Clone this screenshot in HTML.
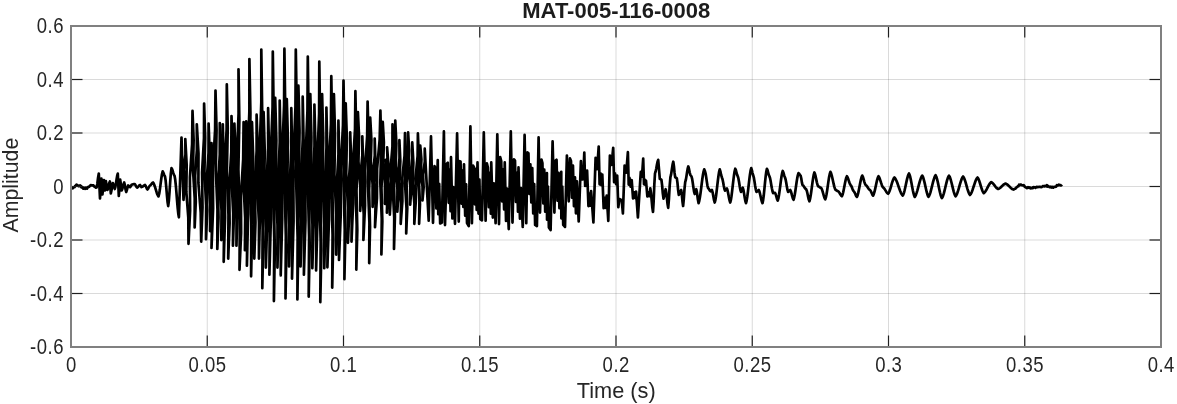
<!DOCTYPE html>
<html><head><meta charset="utf-8"><style>html,body{margin:0;padding:0;background:#fff;overflow:hidden}svg{display:block;will-change:transform}</style></head>
<body><svg width="1177" height="404" viewBox="0 0 1177 404"><defs><clipPath id="c"><rect x="71.0" y="26.0" width="1090.0" height="321.0"/></clipPath></defs><rect width="1177" height="404" fill="#fff"/><g stroke="#262626" stroke-opacity="0.17" stroke-width="1"><line x1="207.25" y1="26.0" x2="207.25" y2="347.0"/><line x1="343.50" y1="26.0" x2="343.50" y2="347.0"/><line x1="479.75" y1="26.0" x2="479.75" y2="347.0"/><line x1="616.00" y1="26.0" x2="616.00" y2="347.0"/><line x1="752.25" y1="26.0" x2="752.25" y2="347.0"/><line x1="888.50" y1="26.0" x2="888.50" y2="347.0"/><line x1="1024.75" y1="26.0" x2="1024.75" y2="347.0"/><line x1="71.0" y1="293.50" x2="1161.0" y2="293.50"/><line x1="71.0" y1="240.00" x2="1161.0" y2="240.00"/><line x1="71.0" y1="186.50" x2="1161.0" y2="186.50"/><line x1="71.0" y1="133.00" x2="1161.0" y2="133.00"/><line x1="71.0" y1="79.50" x2="1161.0" y2="79.50"/></g><g clip-path="url(#c)"><path d="M71.30,188.60 L71.95,187.77 L72.60,188.37 L73.25,187.41 L73.90,187.26 L74.55,187.08 L75.20,185.97 L75.85,185.54 L76.50,184.70 L77.10,185.04 L77.70,185.48 L78.30,185.87 L78.90,186.16 L79.50,185.63 L80.14,185.41 L80.79,186.07 L81.43,187.39 L82.07,186.89 L82.71,187.66 L83.36,188.69 L84.00,187.63 L84.60,188.40 L85.20,188.82 L85.80,187.73 L86.40,188.11 L87.00,188.57 L87.70,187.13 L88.40,187.08 L89.10,186.71 L89.80,185.99 L90.50,185.35 L91.10,185.01 L91.70,185.46 L92.30,185.35 L92.90,185.54 L93.50,185.41 L94.12,186.38 L94.74,186.78 L95.36,186.73 L95.98,187.60 L96.60,187.49 L97.33,183.78 L98.07,177.62 L98.80,173.60 L99.40,186.05 L100.00,198.50 L100.70,188.55 L101.40,178.60 L101.90,186.55 L102.40,194.50 L103.15,187.30 L103.90,180.10 L104.40,185.30 L104.90,190.50 L105.40,185.80 L105.90,181.10 L106.65,185.55 L107.40,190.00 L108.03,188.40 L108.65,185.75 L109.28,183.10 L109.90,181.50 L110.35,187.50 L110.80,193.50 L111.47,190.53 L112.13,185.97 L112.80,183.00 L113.47,184.70 L114.13,187.30 L114.80,189.00 L115.40,186.89 L116.00,183.34 L116.60,179.26 L117.20,175.71 L117.80,173.60 L118.30,184.80 L118.80,196.00 L119.50,187.80 L120.20,179.60 L120.95,185.05 L121.70,190.50 L122.33,189.00 L122.95,186.50 L123.58,184.00 L124.20,182.50 L124.87,185.19 L125.53,189.31 L126.20,192.00 L126.87,190.16 L127.53,187.34 L128.20,185.50 L128.83,185.95 L129.47,186.65 L130.10,187.10 L130.73,186.36 L131.37,185.24 L132.00,184.50 L132.65,184.41 L133.30,184.25 L133.95,184.09 L134.60,184.00 L135.22,184.68 L135.85,185.80 L136.47,186.92 L137.10,187.60 L137.82,187.11 L138.55,186.30 L139.28,185.49 L140.00,185.00 L140.75,186.05 L141.50,187.10 L142.20,186.81 L142.90,186.33 L143.60,185.77 L144.30,185.29 L145.00,185.00 L145.62,185.85 L146.25,187.25 L146.88,188.65 L147.50,189.50 L148.12,188.75 L148.75,187.50 L149.38,186.25 L150.00,185.50 L150.60,185.09 L151.20,184.40 L151.80,183.60 L152.40,182.91 L153.00,182.50 L153.61,183.37 L154.22,184.71 L154.83,186.44 L155.44,188.42 L156.06,190.48 L156.67,192.46 L157.28,194.19 L157.89,195.53 L158.50,196.40 L159.20,193.73 L159.90,189.32 L160.60,183.90 L161.30,178.48 L162.00,174.07 L162.70,171.40 L163.47,172.84 L164.23,175.06 L165.00,176.50 L165.64,180.56 L166.28,187.37 L166.92,195.23 L167.56,202.04 L168.20,206.10 L168.86,200.90 L169.52,192.18 L170.18,182.12 L170.84,173.40 L171.50,168.20 L172.12,169.27 L172.74,171.06 L173.36,173.14 L173.98,174.93 L174.60,176.00 L175.21,179.59 L175.83,185.38 L176.44,192.71 L177.06,200.59 L177.67,207.92 L178.29,213.71 L178.90,217.30 L181.50,137.50 L183.50,199.80 L184.55,184.62 L183.80,169.45 L185.45,154.28 L185.30,139.10 L186.70,165.28 L186.30,191.45 L188.30,217.62 L188.50,243.80 L190.10,210.58 L189.90,177.35 L192.10,144.12 L192.50,110.90 L193.64,140.04 L192.97,169.18 L194.71,198.31 L194.65,227.45 L195.79,201.66 L195.13,175.88 L196.86,150.09 L196.80,124.30 L198.50,153.62 L198.40,182.95 L200.70,212.28 L201.20,241.60 L202.52,207.08 L202.05,172.55 L203.97,138.03 L204.10,103.50 L205.17,137.43 L204.45,171.35 L206.12,205.28 L206.00,239.20 L207.25,210.30 L206.70,181.40 L208.55,152.50 L208.60,123.60 L209.56,150.47 L208.72,177.34 L210.29,204.22 L210.05,231.09 L211.01,209.07 L210.18,187.04 L211.74,165.02 L211.50,143.00 L212.10,169.25 L210.90,195.50 L212.10,221.75 L211.50,248.00 L213.10,208.62 L212.90,169.25 L215.10,129.88 L215.50,90.50 L216.55,130.12 L215.80,169.75 L217.45,209.38 L217.30,249.00 L218.53,217.53 L217.95,186.05 L219.78,154.57 L219.80,123.10 L220.78,152.34 L219.95,181.58 L221.53,210.81 L221.30,240.05 L222.28,211.11 L221.45,182.18 L223.03,153.24 L222.80,124.30 L223.62,158.68 L222.65,193.05 L224.07,227.43 L223.70,261.80 L225.07,217.45 L224.65,173.10 L226.62,128.75 L226.80,84.40 L227.75,127.95 L226.90,171.50 L228.45,215.05 L228.20,258.60 L229.62,222.98 L229.25,187.35 L231.28,151.73 L231.50,116.10 L232.46,148.49 L231.62,180.88 L233.19,213.26 L232.95,245.65 L233.91,215.14 L233.08,184.62 L234.64,154.11 L234.40,123.60 L235.51,154.11 L234.83,184.62 L236.54,215.14 L236.45,245.65 L237.56,201.56 L236.88,157.47 L238.59,113.39 L238.50,69.30 L239.35,119.42 L238.40,169.55 L239.85,219.68 L239.50,269.80 L241.12,232.90 L240.95,196.00 L243.17,159.10 L243.60,122.20 L244.52,154.20 L243.65,186.20 L245.17,218.20 L244.90,250.20 L245.82,217.97 L244.95,185.75 L246.47,153.53 L246.20,121.30 L246.97,157.40 L245.95,193.50 L247.32,229.60 L246.90,265.70 L248.12,214.02 L247.55,162.35 L249.38,110.68 L249.40,59.00 L250.42,113.33 L249.65,167.65 L251.28,221.98 L251.10,276.30 L251.92,237.78 L250.95,199.25 L252.38,160.72 L252.00,122.20 L253.17,156.28 L252.55,190.37 L254.33,224.45 L254.30,258.53 L255.47,222.57 L254.85,186.61 L256.63,150.66 L256.60,114.70 L257.79,150.66 L257.18,186.62 L258.96,222.57 L258.95,258.53 L260.14,206.30 L259.52,154.06 L261.31,101.83 L261.30,49.60 L262.15,109.25 L261.20,168.90 L262.65,228.55 L262.30,288.20 L263.23,244.18 L262.35,200.15 L263.88,156.12 L263.60,112.10 L264.76,150.97 L264.12,189.83 L265.89,228.69 L265.85,267.56 L267.01,227.72 L266.38,187.88 L268.14,148.04 L268.10,108.20 L269.03,149.82 L268.15,191.45 L269.68,233.07 L269.40,274.70 L270.85,218.90 L270.50,163.10 L272.55,107.30 L272.80,51.50 L273.68,113.90 L272.75,176.30 L274.23,238.70 L273.90,301.10 L274.82,250.30 L273.95,199.50 L275.48,148.70 L275.20,97.90 L276.36,140.31 L275.72,182.73 L277.49,225.15 L277.45,267.56 L278.61,225.80 L277.97,184.03 L279.74,142.26 L279.70,100.50 L280.55,144.23 L279.60,187.95 L281.05,231.68 L280.70,275.40 L282.23,218.73 L281.95,162.05 L284.07,105.38 L284.40,48.70 L285.27,111.15 L284.35,173.60 L285.83,236.05 L285.50,298.50 L286.43,248.68 L285.55,198.85 L287.08,149.02 L286.80,99.20 L287.96,141.01 L287.32,182.82 L289.09,224.63 L289.05,266.44 L290.21,226.88 L289.57,187.32 L291.34,147.76 L291.30,108.20 L292.08,150.80 L291.05,193.40 L292.43,236.00 L292.00,278.60 L293.55,221.35 L293.30,164.10 L295.45,106.85 L295.80,49.60 L296.80,112.08 L296.00,174.55 L297.60,237.03 L297.40,299.50 L298.25,246.05 L297.30,192.60 L298.75,139.15 L298.40,85.70 L299.54,130.88 L298.87,176.07 L300.61,221.25 L300.55,266.44 L301.69,224.00 L301.02,181.57 L302.76,139.13 L302.70,96.70 L303.60,141.20 L302.70,185.70 L304.20,230.20 L303.90,274.70 L305.48,220.15 L305.25,165.60 L307.43,111.05 L307.80,56.50 L308.62,116.53 L307.65,176.55 L309.08,236.58 L308.70,296.60 L309.70,245.98 L308.90,195.35 L310.50,144.73 L310.30,94.10 L311.41,137.64 L310.73,181.18 L312.44,224.72 L312.35,268.26 L313.46,227.34 L312.77,186.43 L314.49,145.52 L314.40,104.60 L315.43,146.07 L314.65,187.55 L316.28,229.02 L316.10,270.50 L317.50,218.25 L317.10,166.00 L319.10,113.75 L319.30,61.50 L320.15,121.65 L319.20,181.80 L320.65,241.95 L320.30,302.10 L321.35,250.10 L320.60,198.10 L322.25,146.10 L322.10,94.10 L323.24,137.64 L322.57,181.18 L324.31,224.72 L324.25,268.26 L325.39,228.09 L324.72,187.93 L326.46,147.77 L326.40,107.60 L327.25,147.53 L326.30,187.45 L327.75,227.38 L327.40,267.30 L328.98,219.53 L328.75,171.75 L330.93,123.97 L331.30,76.20 L332.12,129.05 L331.15,181.90 L332.58,234.75 L332.20,287.60 L333.23,239.23 L332.45,190.85 L334.07,142.48 L333.90,94.10 L335.06,134.22 L334.42,174.34 L336.19,214.47 L336.15,254.59 L337.31,221.07 L336.67,187.54 L338.44,154.02 L338.40,120.50 L339.15,155.35 L338.10,190.20 L339.45,225.05 L339.00,259.90 L340.73,215.05 L340.65,170.20 L342.98,125.35 L343.50,80.50 L344.33,130.18 L343.35,179.85 L344.77,229.52 L344.40,279.20 L345.32,235.22 L344.45,191.25 L345.98,147.28 L345.70,103.30 L346.86,138.17 L346.22,173.05 L347.99,207.92 L347.95,242.79 L349.11,215.19 L348.47,187.60 L350.24,160.00 L350.20,132.40 L351.12,159.70 L350.25,187.00 L351.78,214.30 L351.50,241.60 L353.08,204.00 L352.85,166.40 L355.02,128.80 L355.40,91.20 L356.23,135.80 L355.25,180.40 L356.68,225.00 L356.30,269.60 L357.30,230.23 L356.50,190.85 L358.10,151.48 L357.90,112.10 L359.07,136.78 L358.45,161.45 L360.23,186.12 L360.20,210.80 L361.33,192.18 L360.65,173.55 L362.38,154.92 L362.30,136.30 L363.18,162.22 L362.25,188.15 L363.73,214.07 L363.40,240.00 L365.05,205.38 L364.90,170.75 L367.15,136.12 L367.60,101.50 L368.60,141.90 L367.80,182.30 L369.40,222.70 L369.20,263.10 L370.05,226.73 L369.10,190.35 L370.55,153.98 L370.20,117.60 L371.40,139.90 L370.80,162.20 L372.60,184.50 L372.60,206.80 L373.73,189.73 L373.05,172.65 L374.78,155.57 L374.70,138.50 L375.38,160.65 L374.25,182.80 L375.53,204.95 L375.00,227.10 L376.95,197.98 L377.10,168.85 L379.65,139.73 L380.40,110.60 L381.25,146.55 L380.30,182.50 L381.75,218.45 L381.40,254.40 L382.34,221.25 L381.47,188.10 L383.01,154.95 L382.75,121.80 L383.89,142.30 L383.22,162.80 L384.96,183.30 L384.90,203.80 L385.75,192.82 L384.80,181.84 L386.25,170.86 L385.90,159.88 L386.75,173.06 L385.80,186.24 L387.25,199.42 L386.90,212.60 L387.55,196.31 L386.40,180.03 L387.65,163.74 L387.10,147.45 L388.38,164.23 L387.85,181.01 L389.73,197.79 L389.80,214.57 L391.08,192.01 L390.55,169.44 L392.43,146.87 L392.50,124.30 L393.48,155.47 L392.65,186.65 L394.23,217.82 L394.00,249.00 L394.91,216.90 L394.02,184.80 L395.54,152.70 L395.25,120.60 L396.37,143.38 L395.69,166.15 L397.41,188.93 L397.32,211.71 L398.44,193.83 L397.76,175.95 L399.48,158.08 L399.40,140.20 L400.32,161.10 L399.45,182.00 L400.98,202.90 L400.70,223.80 L402.38,201.12 L402.25,178.45 L404.53,155.78 L405.00,133.10 L405.90,158.20 L405.00,183.30 L406.50,208.40 L406.20,233.50 L407.28,208.24 L406.55,182.97 L408.23,157.71 L408.10,132.45 L409.22,150.51 L408.54,168.58 L410.26,186.64 L410.18,204.71 L411.29,189.14 L410.61,173.58 L412.33,158.01 L412.25,142.45 L413.36,162.79 L412.67,183.12 L414.39,203.46 L414.30,223.80 L415.80,201.21 L415.50,178.62 L417.60,156.04 L417.90,133.45 L418.80,156.04 L417.90,178.62 L419.40,201.21 L419.10,223.80 L419.99,204.25 L419.07,184.70 L420.56,165.15 L420.25,145.60 L421.41,159.29 L420.77,172.99 L422.54,186.68 L422.50,200.38 L423.66,187.46 L423.02,174.54 L424.79,161.62 L424.75,148.70 L428.70,220.60 L431.00,136.45 L433.00,222.80 L434.50,166.20 L435.44,167.98 L436.39,208.41 L437.75,160.20 L438.27,214.18 L439.21,183.95 L440.16,223.45 L441.90,222.55 L443.90,131.45 L445.00,225.05 L446.90,163.45 L447.81,162.75 L448.72,202.78 L449.64,169.39 L450.55,211.27 L451.00,157.20 L452.38,218.45 L453.29,187.15 L455.00,223.80 L457.10,133.45 L458.75,221.55 L459.60,161.20 L460.53,161.52 L461.46,203.56 L462.38,170.70 L463.31,206.94 L464.00,164.30 L465.17,215.66 L466.09,184.24 L467.02,223.10 L468.75,226.05 L470.40,126.45 L471.90,223.20 L473.10,165.60 L474.00,167.28 L474.90,204.29 L475.80,169.11 L476.70,209.96 L477.50,162.45 L478.50,213.57 L479.40,179.59 L480.30,219.11 L482.00,220.30 L483.80,132.45 L485.60,220.70 L486.90,163.45 L487.89,167.54 L488.88,207.24 L489.86,172.89 L490.85,213.74 L491.25,162.45 L492.82,217.53 L493.81,183.28 L495.60,223.20 L497.30,134.30 L499.00,224.05 L500.25,157.20 L501.21,161.10 L502.18,201.51 L503.14,169.31 L504.10,209.48 L504.75,162.45 L506.02,220.90 L506.99,188.68 L508.75,229.05 L510.80,131.45 L512.50,222.55 L514.00,159.30 L514.99,160.50 L515.99,201.95 L516.98,172.81 L517.98,211.62 L518.50,167.45 L519.96,218.67 L520.96,188.18 L522.75,226.90 L524.60,134.95 L526.25,223.20 L527.50,152.45 L528.46,153.30 L529.41,193.90 L530.37,164.40 L531.32,202.46 L532.25,168.10 L533.23,213.36 L534.19,184.05 L535.14,224.91 L536.90,226.05 L538.60,137.45 L540.00,212.55 L541.50,159.70 L542.42,163.11 L543.34,203.36 L544.27,169.72 L545.19,211.75 L546.90,173.10 L547.03,219.70 L547.96,186.48 L548.88,227.46 L550.60,230.05 L552.60,141.45 L554.40,212.55 L555.60,160.60 L556.56,159.78 L557.51,200.68 L558.47,172.86 L559.42,208.23 L561.25,171.80 L561.33,218.37 L562.29,186.62 L563.24,224.94 L565.00,226.90 L566.90,155.60 L568.75,201.30 L570.00,158.45 L570.99,160.91 L571.98,197.61 L572.96,165.53 L573.95,206.17 L575.00,177.45 L575.93,213.34 L576.91,181.39 L578.70,221.50 L580.90,161.20 L581.45,179.44 L582.00,166.00 L583.15,179.28 L584.30,152.50 L585.15,185.95 L586.00,173.00 L586.55,185.71 L587.10,170.50 L588.45,206.05 L589.80,193.50 L590.45,205.66 L591.10,191.20 L593.40,222.50 L595.60,157.80 L597.15,169.12 L598.70,146.50 L599.60,184.28 L600.50,173.40 L601.40,185.12 L602.30,174.50 L603.65,208.26 L605.00,197.90 L605.85,207.87 L606.70,195.70 L608.30,220.80 L609.90,155.60 L611.55,164.87 L613.20,147.80 L614.10,182.19 L615.00,173.40 L616.10,184.13 L617.20,175.60 L618.30,207.22 L619.40,199.00 L621.70,200.10 L622.90,213.50 L624.60,165.60 L626.25,172.75 L627.90,152.20 L628.70,184.58 L629.50,177.90 L630.60,186.55 L631.70,180.10 L633.05,198.43 L634.40,192.30 L635.25,198.04 L636.10,191.70 L637.90,217.50 L640.80,171.80 L641.40,174.21 L642.00,176.62 L642.60,167.56 L643.20,158.50 L643.60,171.34 L644.00,184.18 L644.40,181.94 L644.80,179.70 L645.10,182.22 L645.40,184.75 L645.70,182.62 L646.00,180.50 L646.67,188.49 L647.35,196.48 L648.03,194.44 L648.70,192.40 L649.10,194.24 L649.50,196.09 L649.90,192.24 L650.30,188.40 L650.97,192.83 L651.65,200.20 L652.33,207.57 L653.00,212.00 L653.67,201.06 L654.33,184.34 L655.00,173.40 L655.64,171.55 L656.28,168.44 L656.92,164.86 L657.56,161.75 L658.20,159.90 L659.00,169.40 L659.80,178.90 L660.60,179.30 L661.40,179.70 L662.10,185.08 L662.80,193.32 L663.50,198.70 L664.23,196.01 L664.97,191.89 L665.70,189.20 L666.33,192.69 L666.95,198.50 L667.58,204.31 L668.20,207.80 L668.93,199.16 L669.67,185.94 L670.40,177.30 L671.12,174.37 L671.85,169.50 L672.57,164.63 L673.30,161.70 L673.93,166.12 L674.57,172.88 L675.20,177.30 L676.00,177.70 L676.80,178.10 L677.47,182.83 L678.13,190.07 L678.80,194.80 L679.40,193.90 L680.00,192.40 L680.60,190.90 L681.20,190.00 L681.83,194.53 L682.47,201.47 L683.10,206.00 L683.80,199.23 L684.50,188.87 L685.20,182.10 L685.82,179.96 L686.44,176.37 L687.06,172.23 L687.68,168.64 L688.30,166.50 L689.00,168.91 L689.70,172.59 L690.40,175.00 L690.95,175.75 L691.50,176.50 L692.14,178.90 L692.78,182.93 L693.42,187.57 L694.06,191.60 L694.70,194.00 L695.50,191.60 L696.30,189.20 L697.07,193.17 L697.83,199.23 L698.60,203.20 L699.22,201.09 L699.84,197.82 L700.47,193.62 L701.09,188.81 L701.71,183.79 L702.33,178.98 L702.96,174.78 L703.58,171.51 L704.20,169.40 L704.60,170.32 L705.00,171.25 L705.62,173.56 L706.24,177.44 L706.86,181.91 L707.48,185.79 L708.10,188.10 L708.73,188.69 L709.35,189.67 L709.98,190.66 L710.60,191.25 L711.25,190.62 L711.90,190.00 L712.61,192.35 L713.33,196.25 L714.04,200.15 L714.75,202.50 L715.38,200.09 L716.00,196.28 L716.62,191.41 L717.25,185.95 L717.88,180.49 L718.50,175.62 L719.12,171.81 L719.75,169.40 L720.47,171.69 L721.18,175.21 L721.90,177.50 L722.52,179.30 L723.14,182.31 L723.76,185.79 L724.38,188.80 L725.00,190.60 L725.63,190.00 L726.27,189.09 L726.90,188.50 L727.57,190.42 L728.24,193.64 L728.91,197.36 L729.58,200.58 L730.25,202.50 L730.88,200.04 L731.50,196.16 L732.12,191.19 L732.75,185.62 L733.38,180.06 L734.00,175.09 L734.62,171.21 L735.25,168.75 L735.88,170.16 L736.50,172.50 L737.12,174.84 L737.75,176.25 L738.40,178.40 L739.05,182.00 L739.70,186.15 L740.35,189.75 L741.00,191.90 L741.88,189.83 L742.75,187.75 L743.40,189.86 L744.05,193.39 L744.70,197.46 L745.35,200.99 L746.00,203.10 L746.66,200.55 L747.31,196.52 L747.97,191.37 L748.62,185.60 L749.28,179.83 L749.94,174.68 L750.59,170.65 L751.25,168.10 L751.87,170.06 L752.48,173.04 L753.10,175.00 L753.78,177.32 L754.46,181.21 L755.14,185.69 L755.82,189.58 L756.50,191.90 L757.25,191.36 L758.00,190.54 L758.75,190.00 L759.38,191.40 L760.00,193.71 L760.62,196.55 L761.25,199.39 L761.88,201.70 L762.50,203.10 L763.13,200.12 L763.76,195.29 L764.39,189.20 L765.01,182.65 L765.64,176.56 L766.27,171.73 L766.90,168.75 L767.52,170.16 L768.15,172.50 L768.77,174.84 L769.40,176.25 L770.02,178.05 L770.63,181.02 L771.25,184.67 L771.87,188.33 L772.48,191.30 L773.10,193.10 L773.73,193.00 L774.37,192.85 L775.00,192.75 L775.69,194.22 L776.38,196.67 L777.06,199.13 L777.75,200.60 L778.38,198.44 L779.00,195.04 L779.62,190.68 L780.25,185.80 L780.88,180.92 L781.50,176.56 L782.12,173.16 L782.75,171.00 L783.50,172.84 L784.25,175.66 L785.00,177.50 L785.62,179.48 L786.24,182.79 L786.86,186.61 L787.48,189.92 L788.10,191.90 L788.82,191.36 L789.53,190.54 L790.25,190.00 L790.90,191.34 L791.55,193.58 L792.20,196.17 L792.85,198.41 L793.50,199.75 L794.12,197.81 L794.75,194.74 L795.38,190.82 L796.00,186.43 L796.62,182.03 L797.25,178.11 L797.88,175.04 L798.50,173.10 L799.20,173.81 L799.90,174.89 L800.60,175.60 L801.23,178.26 L801.87,182.34 L802.50,185.00 L803.12,185.47 L803.75,186.25 L804.38,187.20 L805.00,188.15 L805.62,188.93 L806.25,189.40 L806.88,191.03 L807.51,193.75 L808.14,196.90 L808.77,199.62 L809.40,201.25 L810.02,199.16 L810.65,195.85 L811.27,191.61 L811.90,186.88 L812.52,182.14 L813.15,177.90 L813.77,174.59 L814.40,172.50 L815.02,173.97 L815.63,176.40 L816.25,179.38 L816.87,182.35 L817.48,184.78 L818.10,186.25 L818.73,186.50 L819.36,186.93 L819.99,187.42 L820.62,187.85 L821.25,188.10 L821.92,189.31 L822.58,191.30 L823.25,193.75 L823.92,196.20 L824.58,198.19 L825.25,199.40 L825.89,197.40 L826.54,194.23 L827.18,190.18 L827.83,185.65 L828.47,181.12 L829.11,177.07 L829.76,173.90 L830.40,171.90 L831.05,173.22 L831.70,175.30 L832.35,177.97 L833.00,180.95 L833.65,183.93 L834.30,186.60 L834.95,188.68 L835.60,190.00 L836.23,190.23 L836.85,190.62 L837.48,191.02 L838.10,191.25 L838.73,191.78 L839.37,192.67 L840.00,193.75 L840.63,194.83 L841.27,195.72 L841.90,196.25 L842.52,194.79 L843.15,192.49 L843.77,189.55 L844.40,186.25 L845.02,182.95 L845.65,180.01 L846.27,177.71 L846.90,176.25 L847.52,177.19 L848.13,178.73 L848.75,180.62 L849.37,182.52 L849.98,184.06 L850.60,185.00 L851.23,185.86 L851.86,187.30 L852.49,188.95 L853.12,190.39 L853.75,191.25 L854.38,192.03 L855.01,193.33 L855.64,194.82 L856.27,196.12 L856.90,196.90 L857.57,195.35 L858.24,192.90 L858.91,189.76 L859.58,186.25 L860.24,182.74 L860.91,179.60 L861.58,177.15 L862.25,175.60 L862.92,176.89 L863.59,179.05 L864.26,181.55 L864.93,183.71 L865.60,185.00 L866.23,185.43 L866.86,186.14 L867.49,187.02 L868.11,187.98 L868.74,188.86 L869.37,189.57 L870.00,190.00 L870.62,190.77 L871.24,192.06 L871.86,193.54 L872.48,194.83 L873.10,195.60 L873.77,194.19 L874.45,191.96 L875.12,189.11 L875.80,185.93 L876.48,182.74 L877.15,179.89 L877.83,177.66 L878.50,176.25 L879.16,177.23 L879.81,178.81 L880.47,180.80 L881.13,182.95 L881.79,184.94 L882.44,186.52 L883.10,187.50 L883.73,187.96 L884.35,188.67 L884.98,189.59 L885.60,190.62 L886.23,191.66 L886.85,192.58 L887.48,193.29 L888.10,193.75 L888.73,192.86 L889.36,191.52 L889.99,189.79 L890.62,187.78 L891.25,185.62 L891.88,183.47 L892.51,181.46 L893.14,179.73 L893.77,178.39 L894.40,177.50 L895.04,178.21 L895.68,179.24 L896.33,180.54 L896.97,182.07 L897.61,183.79 L898.25,185.62 L898.90,187.48 L899.54,189.31 L900.18,191.03 L900.82,192.56 L901.47,193.86 L902.11,194.89 L902.75,195.60 L903.38,194.39 L904.00,192.57 L904.62,190.22 L905.25,187.48 L905.88,184.55 L906.50,181.62 L907.12,178.88 L907.75,176.53 L908.38,174.71 L909.00,173.50 L909.64,174.96 L910.28,177.22 L910.92,180.13 L911.56,183.46 L912.19,186.94 L912.83,190.27 L913.47,193.18 L914.11,195.44 L914.75,196.90 L915.38,195.97 L916.00,194.62 L916.62,192.90 L917.25,190.87 L917.88,188.61 L918.50,186.25 L919.12,183.89 L919.75,181.63 L920.38,179.60 L921.00,177.88 L921.62,176.53 L922.25,175.60 L922.88,176.76 L923.50,178.52 L924.12,180.79 L924.75,183.42 L925.38,186.25 L926.00,189.08 L926.62,191.71 L927.25,193.98 L927.88,195.74 L928.50,196.90 L929.15,195.85 L929.79,194.29 L930.44,192.30 L931.08,189.95 L931.73,187.39 L932.37,184.76 L933.02,182.20 L933.66,179.85 L934.31,177.86 L934.95,176.30 L935.60,175.25 L936.23,176.50 L936.86,178.39 L937.49,180.82 L938.12,183.64 L938.75,186.67 L939.38,189.71 L940.01,192.53 L940.64,194.96 L941.27,196.85 L941.90,198.10 L942.55,197.01 L943.19,195.39 L943.84,193.32 L944.48,190.88 L945.13,188.22 L945.77,185.48 L946.42,182.82 L947.06,180.38 L947.71,178.31 L948.35,176.69 L949.00,175.60 L949.60,176.60 L950.20,178.09 L950.80,179.99 L951.40,182.23 L952.00,184.67 L952.60,187.18 L953.20,189.62 L953.80,191.86 L954.40,193.76 L955.00,195.25 L955.60,196.25 L956.23,195.39 L956.85,194.14 L957.48,192.54 L958.10,190.65 L958.73,188.57 L959.35,186.38 L959.98,184.18 L960.60,182.10 L961.23,180.21 L961.85,178.61 L962.48,177.36 L963.10,176.50 L963.73,177.40 L964.35,178.73 L964.98,180.43 L965.61,182.44 L966.24,184.62 L966.86,186.88 L967.49,189.06 L968.12,191.07 L968.75,192.77 L969.37,194.10 L970.00,195.00 L970.62,194.24 L971.25,193.13 L971.88,191.71 L972.50,190.04 L973.12,188.19 L973.75,186.25 L974.38,184.31 L975.00,182.46 L975.62,180.79 L976.25,179.37 L976.88,178.26 L977.50,177.50 L978.12,178.35 L978.75,179.64 L979.38,181.30 L980.00,183.23 L980.62,185.30 L981.25,187.37 L981.88,189.30 L982.50,190.96 L983.12,192.25 L983.75,193.10 L984.38,192.63 L985.00,191.94 L985.62,191.05 L986.25,190.01 L986.88,188.86 L987.50,187.65 L988.12,186.44 L988.75,185.29 L989.38,184.25 L990.00,183.36 L990.62,182.67 L991.25,182.20 L991.87,182.53 L992.50,183.02 L993.12,183.65 L993.74,184.38 L994.36,185.19 L994.99,186.01 L995.61,186.82 L996.23,187.55 L996.85,188.18 L997.48,188.67 L998.10,189.00 L998.72,188.76 L999.33,188.42 L999.95,187.99 L1000.57,187.47 L1001.18,186.90 L1001.80,186.30 L1002.42,185.70 L1003.03,185.13 L1003.65,184.61 L1004.27,184.18 L1004.88,183.84 L1005.50,183.60 L1006.12,183.84 L1006.73,184.18 L1007.35,184.61 L1007.96,185.12 L1008.58,185.68 L1009.19,186.29 L1009.81,186.91 L1010.42,187.52 L1011.04,188.08 L1011.65,188.59 L1012.27,189.02 L1012.88,189.36 L1013.50,189.60 L1014.12,189.29 L1014.74,188.79 L1015.35,188.76 L1015.97,187.81 L1016.59,187.35 L1017.21,187.10 L1017.83,186.08 L1018.45,186.23 L1019.06,184.75 L1019.68,185.18 L1020.30,184.49 L1020.94,184.64 L1021.58,185.13 L1022.22,185.23 L1022.87,185.39 L1023.51,185.15 L1024.15,185.63 L1024.79,186.85 L1025.43,186.93 L1026.08,187.47 L1026.72,188.10 L1027.36,187.92 L1028.00,187.17 L1028.62,187.52 L1029.25,187.90 L1029.87,187.37 L1030.49,188.36 L1031.12,188.30 L1031.74,188.13 L1032.36,187.57 L1032.99,188.05 L1033.61,187.01 L1034.24,187.22 L1034.86,187.40 L1035.48,187.76 L1036.11,187.37 L1036.73,186.85 L1037.35,187.11 L1037.98,187.07 L1038.60,187.02 L1039.24,186.75 L1039.87,186.98 L1040.51,186.87 L1041.15,187.14 L1041.78,186.97 L1042.42,186.38 L1043.05,186.09 L1043.69,186.35 L1044.33,186.35 L1044.96,185.93 L1045.60,186.02 L1046.24,186.31 L1046.88,185.20 L1047.52,186.56 L1048.16,185.95 L1048.80,186.47 L1049.44,187.15 L1050.08,187.27 L1050.72,186.66 L1051.36,187.52 L1052.00,186.80 L1052.62,187.11 L1053.23,187.61 L1053.85,186.90 L1054.46,186.93 L1055.08,186.89 L1055.69,186.77 L1056.31,186.44 L1056.92,185.14 L1057.54,185.49 L1058.15,185.35 L1058.77,184.61 L1059.38,185.15 L1060.00,185.15 L1060.67,185.35 L1061.33,185.33 L1062.00,184.60" fill="none" stroke="#000" stroke-width="2.7" stroke-linejoin="round" stroke-linecap="butt"/></g><g stroke="#1f1f1f" stroke-width="1.2"><line x1="71.00" y1="347.0" x2="71.00" y2="335.5"/><line x1="71.00" y1="26.0" x2="71.00" y2="37.5"/><line x1="207.25" y1="347.0" x2="207.25" y2="335.5"/><line x1="207.25" y1="26.0" x2="207.25" y2="37.5"/><line x1="343.50" y1="347.0" x2="343.50" y2="335.5"/><line x1="343.50" y1="26.0" x2="343.50" y2="37.5"/><line x1="479.75" y1="347.0" x2="479.75" y2="335.5"/><line x1="479.75" y1="26.0" x2="479.75" y2="37.5"/><line x1="616.00" y1="347.0" x2="616.00" y2="335.5"/><line x1="616.00" y1="26.0" x2="616.00" y2="37.5"/><line x1="752.25" y1="347.0" x2="752.25" y2="335.5"/><line x1="752.25" y1="26.0" x2="752.25" y2="37.5"/><line x1="888.50" y1="347.0" x2="888.50" y2="335.5"/><line x1="888.50" y1="26.0" x2="888.50" y2="37.5"/><line x1="1024.75" y1="347.0" x2="1024.75" y2="335.5"/><line x1="1024.75" y1="26.0" x2="1024.75" y2="37.5"/><line x1="1161.00" y1="347.0" x2="1161.00" y2="335.5"/><line x1="1161.00" y1="26.0" x2="1161.00" y2="37.5"/><line x1="71.0" y1="347.00" x2="82.5" y2="347.00"/><line x1="1161.0" y1="347.00" x2="1149.5" y2="347.00"/><line x1="71.0" y1="293.50" x2="82.5" y2="293.50"/><line x1="1161.0" y1="293.50" x2="1149.5" y2="293.50"/><line x1="71.0" y1="240.00" x2="82.5" y2="240.00"/><line x1="1161.0" y1="240.00" x2="1149.5" y2="240.00"/><line x1="71.0" y1="186.50" x2="82.5" y2="186.50"/><line x1="1161.0" y1="186.50" x2="1149.5" y2="186.50"/><line x1="71.0" y1="133.00" x2="82.5" y2="133.00"/><line x1="1161.0" y1="133.00" x2="1149.5" y2="133.00"/><line x1="71.0" y1="79.50" x2="82.5" y2="79.50"/><line x1="1161.0" y1="79.50" x2="1149.5" y2="79.50"/><line x1="71.0" y1="26.00" x2="82.5" y2="26.00"/><line x1="1161.0" y1="26.00" x2="1149.5" y2="26.00"/></g><rect x="71.0" y="26.0" width="1090.0" height="321.0" fill="none" stroke="#808080" stroke-width="2"/><g font-family="&quot;Liberation Sans&quot;, sans-serif" font-size="19.5" fill="#262626"><text transform="translate(71.28,371.50) scale(0.95,1.11)" text-anchor="middle" letter-spacing="0.55">0</text><text transform="translate(207.53,371.50) scale(0.95,1.11)" text-anchor="middle" letter-spacing="0.55">0.05</text><text transform="translate(343.77,371.50) scale(0.95,1.11)" text-anchor="middle" letter-spacing="0.55">0.1</text><text transform="translate(480.03,371.50) scale(0.95,1.11)" text-anchor="middle" letter-spacing="0.55">0.15</text><text transform="translate(616.27,371.50) scale(0.95,1.11)" text-anchor="middle" letter-spacing="0.55">0.2</text><text transform="translate(752.52,371.50) scale(0.95,1.11)" text-anchor="middle" letter-spacing="0.55">0.25</text><text transform="translate(888.78,371.50) scale(0.95,1.11)" text-anchor="middle" letter-spacing="0.55">0.3</text><text transform="translate(1025.03,371.50) scale(0.95,1.11)" text-anchor="middle" letter-spacing="0.55">0.35</text><text transform="translate(1161.28,371.50) scale(0.95,1.11)" text-anchor="middle" letter-spacing="0.55">0.4</text><text transform="translate(64.05,354.30) scale(0.95,1.11)" text-anchor="end" letter-spacing="0.55">-0.6</text><text transform="translate(64.05,300.80) scale(0.95,1.11)" text-anchor="end" letter-spacing="0.55">-0.4</text><text transform="translate(64.05,247.30) scale(0.95,1.11)" text-anchor="end" letter-spacing="0.55">-0.2</text><text transform="translate(64.05,193.80) scale(0.95,1.11)" text-anchor="end" letter-spacing="0.55">0</text><text transform="translate(64.05,140.30) scale(0.95,1.11)" text-anchor="end" letter-spacing="0.55">0.2</text><text transform="translate(64.05,86.80) scale(0.95,1.11)" text-anchor="end" letter-spacing="0.55">0.4</text><text transform="translate(64.05,33.30) scale(0.95,1.11)" text-anchor="end" letter-spacing="0.55">0.6</text></g><text transform="translate(616.3,17.8) scale(1.015,1.045)" text-anchor="middle" font-family="&quot;Liberation Sans&quot;, sans-serif" font-weight="bold" font-size="21.7" fill="#1c1c1c">MAT-005-116-0008</text><text x="616.2" y="397.9" text-anchor="middle" font-family="&quot;Liberation Sans&quot;, sans-serif" font-size="21.75" fill="#262626">Time (s)</text><text transform="translate(17.7,185.1) rotate(-90)" text-anchor="middle" font-family="&quot;Liberation Sans&quot;, sans-serif" font-size="21.3" fill="#262626">Amplitude</text></svg></body></html>
